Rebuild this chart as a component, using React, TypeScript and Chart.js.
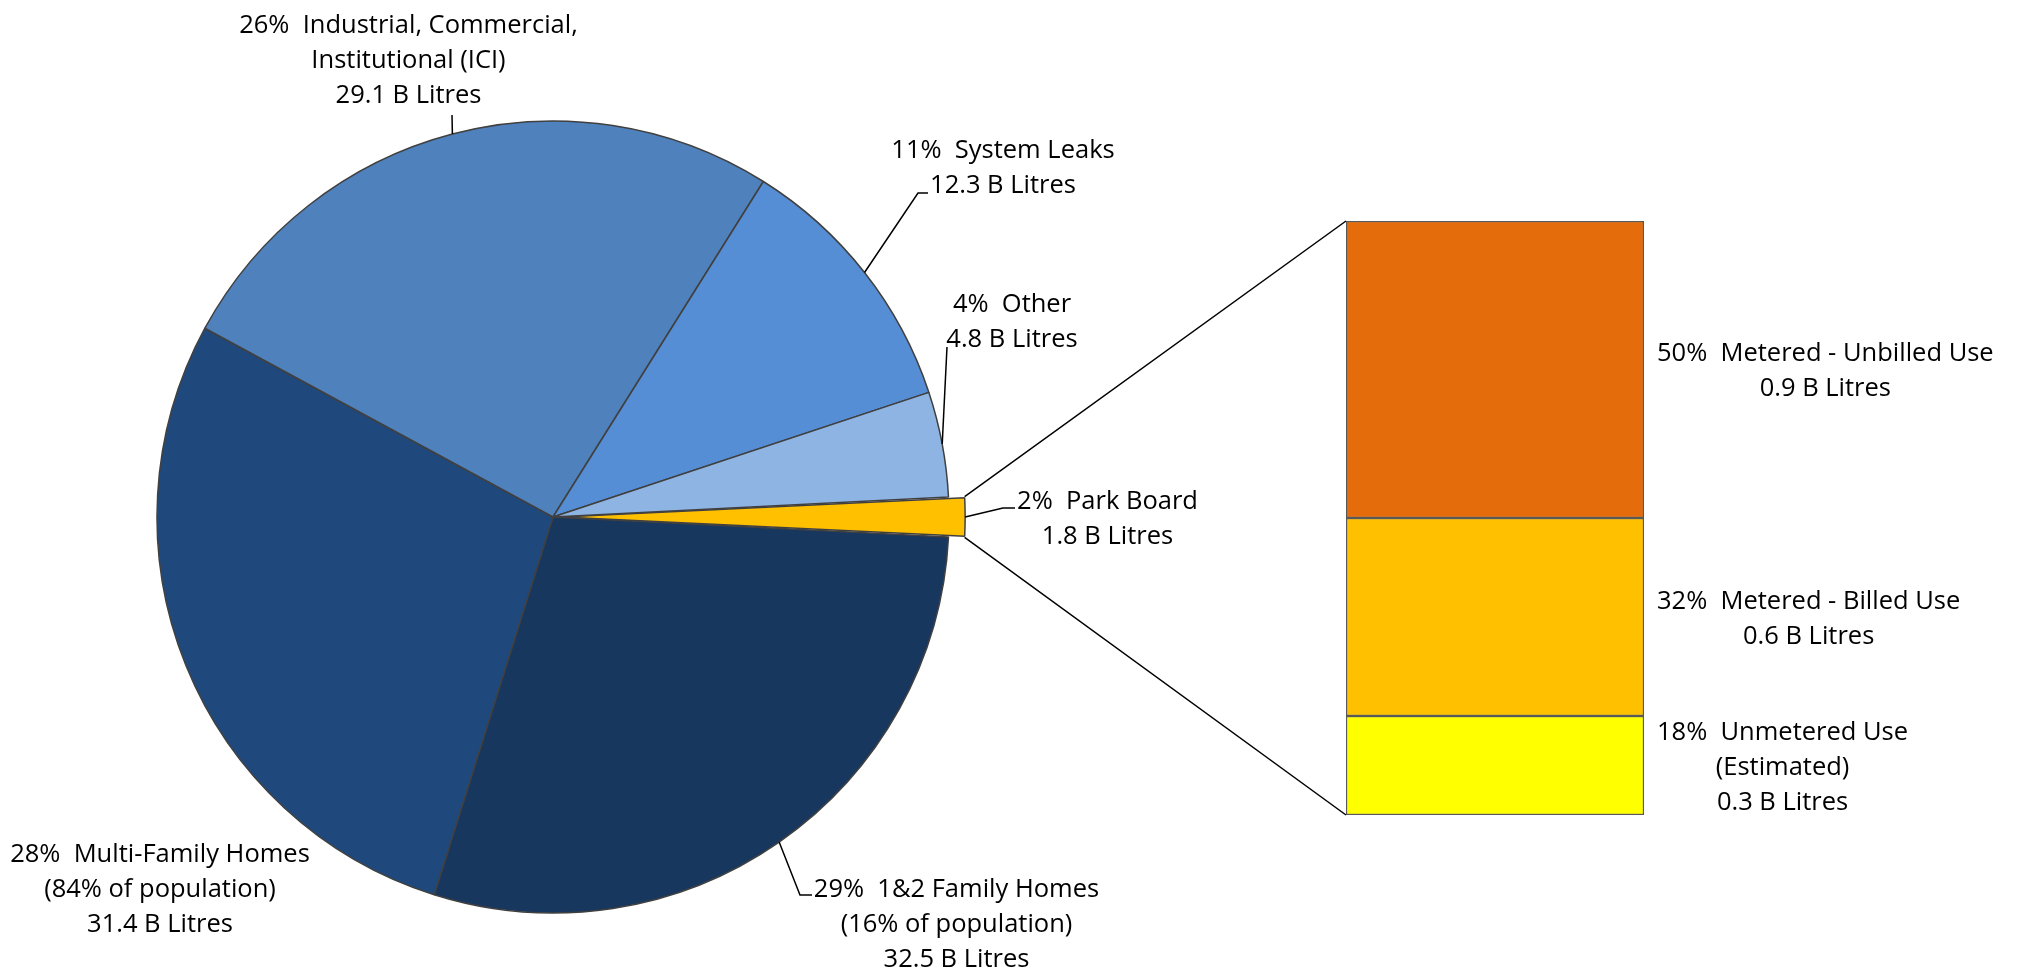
import React, { useEffect, useRef } from "react";
import { Chart, registerables } from "chart.js";

Chart.register(...registerables);

// ---------- data ----------
const pieCategories = [
  "Park Board",
  "1&2 Family Homes",
  "Multi-Family Homes",
  "Industrial, Commercial, Institutional (ICI)",
  "System Leaks",
  "Other",
];
const pieValues = [1.8, 32.5, 31.4, 29.1, 12.3, 4.8]; // B Litres
const pieLabelLines = [
  ["Park Board"],
  ["1&2 Family Homes", "(16% of population)"],
  ["Multi-Family Homes", "(84% of population)"],
  ["Industrial, Commercial,", "Institutional (ICI)"],
  ["System Leaks"],
  ["Other"],
];
const pieColors = ["#FFC000", "#17375E", "#1F497D", "#4F81BD", "#558ED5", "#8EB4E3"];

const parkCategories = ["Unmetered Use (Estimated)", "Metered - Billed Use", "Metered - Unbilled Use"];
const parkValues = [0.3, 0.6, 0.9]; // B Litres
const parkPercents = [18, 32, 50];
const parkLabelLines = [["Unmetered Use", "(Estimated)"], ["Metered - Billed Use"], ["Metered - Unbilled Use"]];
const parkColors = ["#FFFF00", "#FFC000", "#E46C0A"];

// ---------- layout ----------
const W = 2018;
const H = 971;
const FONT_SIZE = 25.5;
const FONT = `${FONT_SIZE}px "Open Sans", "Noto Sans", sans-serif`;
const LINE_H = 35;
const PIE_RADIUS = 396;
const PIE_PADDING = { left: 0, right: 912, top: 63, bottom: 0 };
const PARK_OFFSET = 34;
const BAR_PADDING = { left: 1346, right: 374, top: 221, bottom: 156 };
const BAR_LABEL_GAP = 13;
// label block centres (per pie slice, same order as data)
const pieLabelPos = [
  { x: 1107.5, y: 517.5 },
  { x: 956.5, y: 922.5 },
  { x: 160, y: 887.5 },
  { x: 408.5, y: 59 },
  { x: 1003, y: 166 },
  { x: 1012, y: 320 },
];
// leader line bend points (from slice edge)
const pieLeaders: number[][][] = [
  [[1003, 508], [1015, 508]],
  [[800, 895], [812, 895]],
  [],
  [[452, 115]],
  [[918, 193], [928, 193]],
  [[947, 347]],
];

function drawBlock(ctx: CanvasRenderingContext2D, lines: string[], cx: number, cy: number) {
  const n = lines.length;
  lines.forEach((t, i) => {
    const yc = cy + (i - (n - 1) / 2) * LINE_H;
    ctx.fillText(t, cx, yc + FONT_SIZE * 0.36);
  });
}

function arcGeom(arc: any) {
  const O = (arc.options.offset || 0) / 4;
  const circ = arc.endAngle - arc.startAngle;
  const fix = 1 - Math.sin(Math.min(Math.PI, circ));
  const rEff = arc.outerRadius + O * fix;
  const mid = (arc.startAngle + arc.endAngle) / 2;
  const ax = arc.x + Math.cos(mid) * O;
  const ay = arc.y + Math.sin(mid) * O;
  const pt = (a: number) => [ax + rEff * Math.cos(a), ay + rEff * Math.sin(a)];
  return { mid, pt };
}

export default function App() {
  const pieRef = useRef<HTMLCanvasElement>(null);
  const barRef = useRef<HTMLCanvasElement>(null);

  useEffect(() => {
    document.body.style.margin = "0";
    const pieTotal = pieValues.reduce((a, b) => a + b, 0);
    const halfPark = (pieValues[0] / pieTotal) * 180;

    const pieChart = new Chart(pieRef.current!, {
      type: "pie",
      data: {
        labels: pieCategories,
        datasets: [
          {
            data: pieValues,
            backgroundColor: pieColors,
            borderColor: "#404040",
            borderWidth: 1.5,
            offset: pieValues.map((_, i) => (i === 0 ? PARK_OFFSET : 0)),
            radius: PIE_RADIUS,
          } as any,
        ],
      },
      options: {
        responsive: false,
        animation: false,
        devicePixelRatio: 1,
        events: [],
        rotation: 90 - halfPark,
        radius: PIE_RADIUS,
        layout: { padding: PIE_PADDING },
        plugins: { legend: { display: false }, tooltip: { enabled: false } },
      } as any,
    });

    const parkTotal = Math.max(parkValues.reduce((a, b) => a + b, 0), pieValues[0]);

    const overlay = {
      id: "overlay",
      afterDraw(chart: any) {
        const ctx: CanvasRenderingContext2D = chart.ctx;
        ctx.save();
        ctx.font = FONT;
        ctx.fillStyle = "#000";
        ctx.textAlign = "center";
        ctx.strokeStyle = "#000";
        ctx.lineWidth = 1.5;

        // pie labels and leaders
        const pieMeta = pieChart.getDatasetMeta(0);
        pieMeta.data.forEach((arc: any, i: number) => {
          const g = arcGeom(arc);
          const pts = pieLeaders[i];
          if (pts.length) {
            const s = g.pt(g.mid);
            ctx.beginPath();
            ctx.moveTo(s[0], s[1]);
            pts.forEach((p) => ctx.lineTo(p[0], p[1]));
            ctx.stroke();
          }
          const pct = Math.round((pieValues[i] / pieTotal) * 100);
          const lines = [
            `${pct}%  ${pieLabelLines[i][0]}`,
            ...pieLabelLines[i].slice(1),
            `${pieValues[i].toFixed(1)} B Litres`,
          ];
          drawBlock(ctx, lines, pieLabelPos[i].x, pieLabelPos[i].y);
        });

        // connectors from Park Board slice to bar
        const park = arcGeom(pieMeta.data[0]);
        const a0: any = pieMeta.data[0];
        const topC = park.pt(a0.startAngle);
        const botC = park.pt(a0.endAngle);
        const topBar: any = chart.getDatasetMeta(parkValues.length - 1).data[0];
        const botBar: any = chart.getDatasetMeta(0).data[0];
        ctx.beginPath();
        ctx.moveTo(topC[0], topC[1]);
        ctx.lineTo(topBar.x - topBar.width / 2, topBar.y);
        ctx.moveTo(botC[0], botC[1]);
        ctx.lineTo(botBar.x - botBar.width / 2, botBar.base);
        ctx.stroke();

        // bar labels
        parkValues.forEach((v, i) => {
          const el: any = chart.getDatasetMeta(i).data[0];
          const lines = [
            `${parkPercents[i]}%  ${parkLabelLines[i][0]}`,
            ...parkLabelLines[i].slice(1),
            `${v.toFixed(1)} B Litres`,
          ];
          const left = el.x + el.width / 2 + BAR_LABEL_GAP;
          const w = ctx.measureText(lines[0]).width;
          drawBlock(ctx, lines, left + w / 2, (el.y + el.base) / 2);
        });
        ctx.restore();
      },
    };

    const barChart = new Chart(barRef.current!, {
      type: "bar",
      data: {
        labels: ["Park Board"],
        datasets: parkCategories.map((c, i) => ({
          label: c,
          data: [parkValues[i]],
          backgroundColor: parkColors[i],
          borderColor: "#595959",
          borderWidth: 1.5,
          borderSkipped: false,
          categoryPercentage: 1,
          barPercentage: 1,
        })),
      },
      options: {
        responsive: false,
        animation: false,
        devicePixelRatio: 1,
        events: [],
        layout: { padding: BAR_PADDING },
        scales: {
          x: { display: false, stacked: true },
          y: { display: false, stacked: true, min: 0, max: parkTotal },
        },
        plugins: { legend: { display: false }, tooltip: { enabled: false } },
      } as any,
      plugins: [overlay],
    });

    return () => {
      barChart.destroy();
      pieChart.destroy();
    };
  }, []);

  return (
    <div style={{ position: "relative", width: W, height: H, background: "#fff" }}>
      <canvas ref={pieRef} width={W} height={H} style={{ position: "absolute", left: 0, top: 0, width: W, height: H }} />
      <canvas ref={barRef} width={W} height={H} style={{ position: "absolute", left: 0, top: 0, width: W, height: H }} />
    </div>
  );
}
